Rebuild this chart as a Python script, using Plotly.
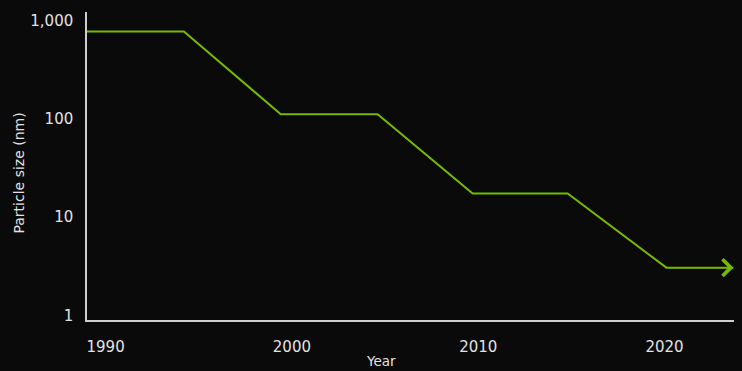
import math
import plotly.graph_objects as go

# Particle size over time (log scale), stepped plateaus
years = [1989.0, 1994.2, 1999.4, 2004.6, 2009.7, 2014.8, 2020.1, 2023.7]
size_nm = [770, 770, 111, 111, 17.3, 17.3, 3.05, 3.05]

x_ticks = [1990, 2000, 2010, 2020]
y_ticks = [1, 10, 100, 1000]
y_tick_text = ["1", "10", "100", "1,000"]

GREEN = "#76b900"
BG = "#0a0a0a"
TEXT = "#e2e2e2"
AXIS = "#cfcfcf"
FONT = "DejaVu Sans, sans-serif"

fig = go.Figure()
fig.add_trace(go.Scatter(
    x=years, y=size_nm, mode="lines",
    line=dict(color=GREEN, width=2),
    hoverinfo="skip", showlegend=False,
))

# open chevron at the end of the last segment
fig.add_annotation(
    x=years[-1], y=math.log10(size_nm[-1]),
    ax=years[-2], ay=math.log10(size_nm[-2]),
    xref="x", yref="y", axref="x", ayref="y",
    showarrow=True, arrowhead=4, arrowsize=2.3, arrowwidth=1.4,
    arrowcolor=GREEN, text="",
)

# axis titles
fig.add_annotation(
    text="Year", xref="paper", yref="paper", x=0.455, y=-0.1645,
    xanchor="center", yanchor="bottom", showarrow=False,
    font=dict(size=13.5, color=TEXT),
)
fig.add_annotation(
    text="Particle size (nm)", xref="paper", yref="paper", x=-0.1066, y=0.4756,
    xanchor="center", yanchor="middle", textangle=-90, showarrow=False,
    font=dict(size=14, color=TEXT),
)

fig.update_layout(
    width=742, height=371,
    margin=dict(l=87, r=8, t=12, b=51),
    paper_bgcolor=BG, plot_bgcolor=BG,
    font=dict(family=FONT, color=TEXT, size=15),
    xaxis=dict(
        range=[1989.0, 2023.73],
        tickvals=x_ticks,
        showgrid=False, zeroline=False,
        showline=True, linecolor=AXIS, linewidth=1.5,
        ticks="", ticklabelstandoff=12,
        tickfont=dict(size=15, color=TEXT),
    ),
    yaxis=dict(
        type="log",
        range=[-0.048, 3.085],
        tickvals=y_ticks, ticktext=y_tick_text,
        showgrid=False, zeroline=False,
        showline=True, linecolor=AXIS, linewidth=1.5,
        ticks="", ticklabelstandoff=9,
        tickfont=dict(size=15, color=TEXT),
    ),
)

fig.write_html("out.html")
